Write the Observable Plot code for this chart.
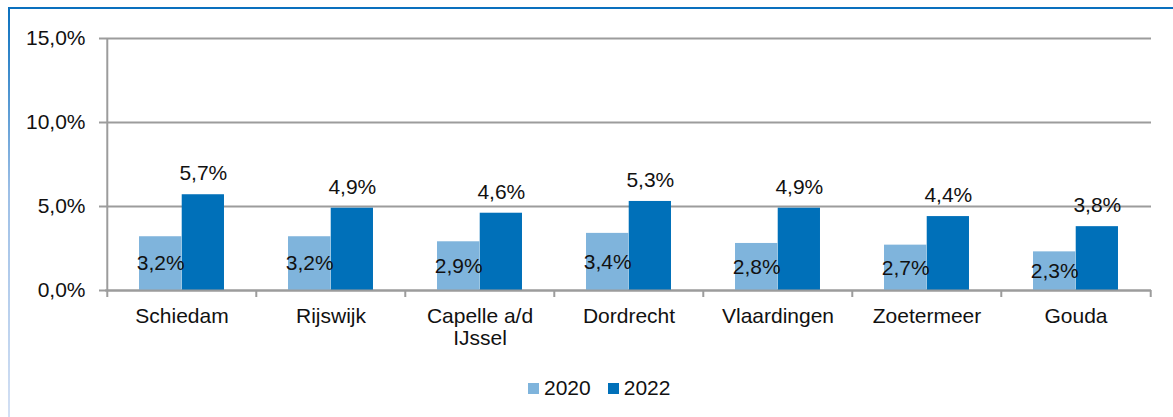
<!DOCTYPE html>
<html>
<head>
<meta charset="utf-8">
<script src="https://cdn.jsdelivr.net/npm/d3@7"></script>
<script src="https://cdn.jsdelivr.net/npm/@observablehq/plot@0.6"></script>
<style>
  html, body { margin: 0; padding: 0; background: #fff; }
  #wrap { position: relative; width: 1173px; height: 417px; overflow: hidden; background: #fff;
          font-family: "Liberation Sans", Arial, sans-serif; }
  #topline { position: absolute; left: 8px; top: 7px; right: 0; height: 2px; background: #0A70BE; }
  #leftline { position: absolute; left: 8px; top: 7px; width: 2px; bottom: 0;
              background: linear-gradient(#0A70BE, #9DBFE6 45%, #D3E0F4); }
  #chart { position: absolute; left: 0; top: 0; }
  #legend { position: absolute; left: 528px; top: 376px; display: flex; align-items: center;
            font-size: 21px; color: #111; }
  #legend .item { display: flex; align-items: center; margin-right: 17px; }
  #legend .sw { width: 11px; height: 11px; margin-right: 5px; }
</style>
</head>
<body>
<div id="wrap">
  <div id="topline"></div>
  <div id="leftline"></div>
  <div id="chart"></div>
  <div id="legend"></div>
</div>
<script>
// ---- data ----
const cities = ["Schiedam", "Rijswijk", "Capelle a/d\nIJssel", "Dordrecht", "Vlaardingen", "Zoetermeer", "Gouda"];
const years = ["2020", "2022"];
const values2020 = [3.2, 3.2, 2.9, 3.4, 2.8, 2.7, 2.3];
const values2022 = [5.7, 4.9, 4.6, 5.3, 4.9, 4.4, 3.8];
const yTicks = [0, 5, 10, 15];
const colors = ["#7FB4DC", "#0070B9"];

const rows = [];
cities.forEach((c, i) => {
  rows.push({city: c, year: years[0], value: values2020[i]});
  rows.push({city: c, year: years[1], value: values2022[i]});
});

// ---- layout ----
const W = 1173, H = 360;
const mL = 105, mR = 22, mT = 38, mB = 70;
const bw = (W - mL - mR) / cities.length;
const barW = 42.7;
const outer = (bw - 2 * barW) / 2;
const gray = "#9C9C9C";
const FS = 21;
const fmt = v => v.toFixed(1).replace(".", ",") + "%";

const plot = Plot.plot({
  width: W, height: H,
  marginLeft: mL, marginRight: mR, marginTop: mT, marginBottom: mB,
  style: {fontFamily: "'Liberation Sans', Arial, sans-serif", fontSize: FS + "px", color: "#111", background: "transparent"},
  x: {domain: cities, padding: 0, label: null},
  y: {domain: [0, 15], label: null},
  color: {domain: years, range: colors},
  marks: [
    Plot.gridY(yTicks, {stroke: gray, strokeOpacity: 1, strokeWidth: 2}),
    Plot.axisY(yTicks, {tickSize: 6, tickPadding: 14, stroke: gray, strokeWidth: 2, strokeOpacity: 1,
                        fill: "#111", tickFormat: fmt, fontSize: FS, label: null}),
    Plot.barY(rows.filter(d => d.year === years[0]), {x: "city", y: "value", fill: "year",
      insetLeft: outer, insetRight: outer + barW}),
    Plot.barY(rows.filter(d => d.year === years[1]), {x: "city", y: "value", fill: "year",
      insetLeft: outer + barW, insetRight: outer}),
    // y axis line
    Plot.ruleX([cities[0]], {x: d => d, y1: () => 0, y2: () => 15, dx: -bw / 2, stroke: gray, strokeWidth: 2}),
    // x axis line
    Plot.ruleY([0], {stroke: gray, strokeWidth: 2}),
    // category boundary ticks
    Plot.ruleX(cities, {x: d => d, y1: () => 0, y2: () => 0, insetBottom: -7, dx: -bw / 2, stroke: gray, strokeWidth: 2}),
    Plot.ruleX([cities[cities.length - 1]], {x: d => d, y1: () => 0, y2: () => 0, insetBottom: -7, dx: bw / 2, stroke: gray, strokeWidth: 2}),
    Plot.axisX({tickSize: 0, tickPadding: 16, fontSize: FS, fill: "#111", lineHeight: 1.08, label: null}),
    // value labels
    Plot.text(rows.filter(d => d.year === years[0]), {x: "city", y: d => d.value / 2, text: d => fmt(d.value),
      dx: -barW / 2, fontSize: FS, fill: "#111"}),
    Plot.text(rows.filter(d => d.year === years[1]), {x: "city", y: "value", text: d => fmt(d.value),
      dx: barW / 2, dy: -21, fontSize: FS, fill: "#111"})
  ]
});
document.getElementById("chart").appendChild(plot);

// legend
const lg = document.getElementById("legend");
years.forEach((y, i) => {
  const it = document.createElement("div");
  it.className = "item";
  const sw = document.createElement("div");
  sw.className = "sw";
  sw.style.background = colors[i];
  const tx = document.createElement("span");
  tx.textContent = y;
  it.appendChild(sw); it.appendChild(tx);
  lg.appendChild(it);
});
</script>
</body>
</html>
